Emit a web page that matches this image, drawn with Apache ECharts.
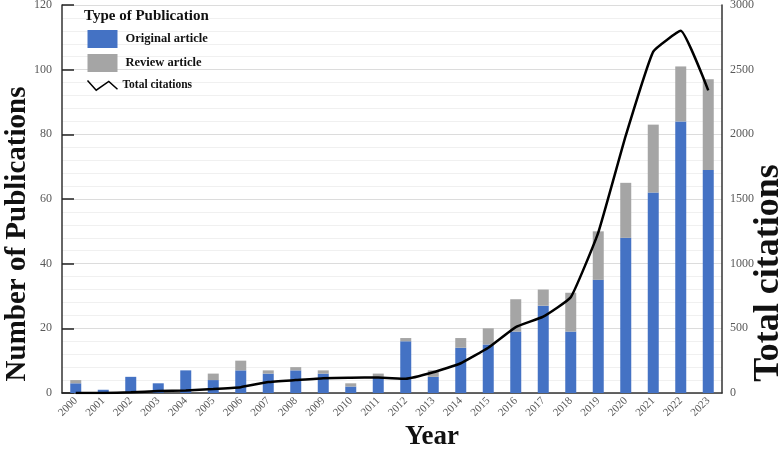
<!DOCTYPE html>
<html><head><meta charset="utf-8">
<script src="https://cdn.jsdelivr.net/npm/echarts@6/dist/echarts.min.js"></script>
<style>html,body{margin:0;padding:0;background:#fff}#c{width:781px;height:449px}</style>
</head><body><div id="c"></div>
<script>
const years = ['2000','2001','2002','2003','2004','2005','2006','2007','2008','2009','2010','2011','2012','2013','2014','2015','2016','2017','2018','2019','2020','2021','2022','2023'];
const originalArticles = [3,1,5,3,7,4,7,6,7,6,2,5,16,5,14,15,19,27,19,35,48,62,84,69];
const reviewArticles = [1,0,0,0,0,2,3,1,1,1,1,1,1,2,3,5,10,5,12,15,17,21,17,28];
const totalCitations = [0,0,5,15,20,30,45,85,100,115,118,120,110,160,230,350,510,590,740,1240,1990,2640,2800,2340];

const serif = '"Liberation Serif","Times New Roman",serif';
const chart = echarts.init(document.getElementById('c'));
chart.setOption({
  animation: false,
  textStyle: {fontFamily: serif},
  title: {
    text: 'Type of Publication', left: 84, top: 9, padding: 0,
    textStyle: {fontFamily: serif, fontWeight: 'bold', fontSize: 15, color: '#111'}
  },
  legend: {
    orient: 'vertical', left: 85, top: 30, itemGap: 6, padding: 0,
    itemWidth: 30, itemHeight: 18,
    textStyle: {fontFamily: serif, fontWeight: 'bold', fontSize: 12.5, color: '#111', padding: [0,0,0,3]},
    data: [
      {name: 'Original article', icon: 'rect'},
      {name: 'Review article', icon: 'rect'},
      {name: 'Total citations', icon: 'path://M0,1 L9,11 L22,2 L31,10',
       itemStyle: {color: 'none', borderColor: '#000', borderWidth: 1.5},
       textStyle: {fontSize: 11.5, padding: [0,0,0,0]}}
    ]
  },
  grid: {left: 62, right: 59, top: 5, bottom: 56, containLabel: false, outerBoundsMode: 'none'},
  graphic: [
    {type: 'text', x: 17.5, y: 234, rotation: Math.PI / 2,
     style: {text: 'Number of Publications', font: 'bold 29px ' + serif, fill: '#111', align: 'center', verticalAlign: 'middle'}},
    {type: 'text', x: 769, y: 273, rotation: Math.PI / 2,
     style: {text: 'Total citations', font: 'bold 36px ' + serif, fill: '#111', align: 'center', verticalAlign: 'middle'}},
    {type: 'text', x: 432, y: 437,
     style: {text: 'Year', font: 'bold 27px ' + serif, fill: '#111', align: 'center', verticalAlign: 'middle'}}
  ],
  xAxis: {
    type: 'category', data: years,
    axisLine: {lineStyle: {color: '#333', width: 1.5}},
    axisTick: {show: false},
    axisLabel: {rotate: 45, fontSize: 11, color: '#595959', fontFamily: serif, interval: 0, margin: 6}
  },
  yAxis: [{
    type: 'value', min: 0, max: 120, interval: 20,
    axisLine: {show: true, lineStyle: {color: '#333', width: 1.5}},
    axisTick: {show: true, inside: true, length: 12, lineStyle: {color: '#222', width: 1.5}},
    axisLabel: {fontSize: 12, color: '#595959', fontFamily: serif, margin: 10},
    splitLine: {lineStyle: {color: '#dcdcdc', width: 1}},
    minorTick: {show: false, splitNumber: 5},
    minorSplitLine: {show: true, lineStyle: {color: '#f0f0f0', width: 1}}
  }, {
    type: 'value', min: 0, max: 3000, interval: 500, position: 'right',
    axisLine: {show: true, lineStyle: {color: '#333', width: 1.5}},
    axisTick: {show: false},
    axisLabel: {fontSize: 12, color: '#595959', fontFamily: serif, margin: 8, formatter: v => String(v)},
    splitLine: {show: false}
  }],
  series: [
    {name: 'Original article', type: 'bar', stack: 'pub', data: originalArticles,
     barWidth: '40%', itemStyle: {color: '#4472C4'}},
    {name: 'Review article', type: 'bar', stack: 'pub', data: reviewArticles,
     barWidth: '40%', itemStyle: {color: '#A5A5A5'}},
    {name: 'Total citations', type: 'line', yAxisIndex: 1, data: totalCitations,
     smooth: 0.12, symbol: 'none', lineStyle: {color: '#000', width: 2.5}, itemStyle: {color: '#000'}}
  ]
});
</script></body></html>
